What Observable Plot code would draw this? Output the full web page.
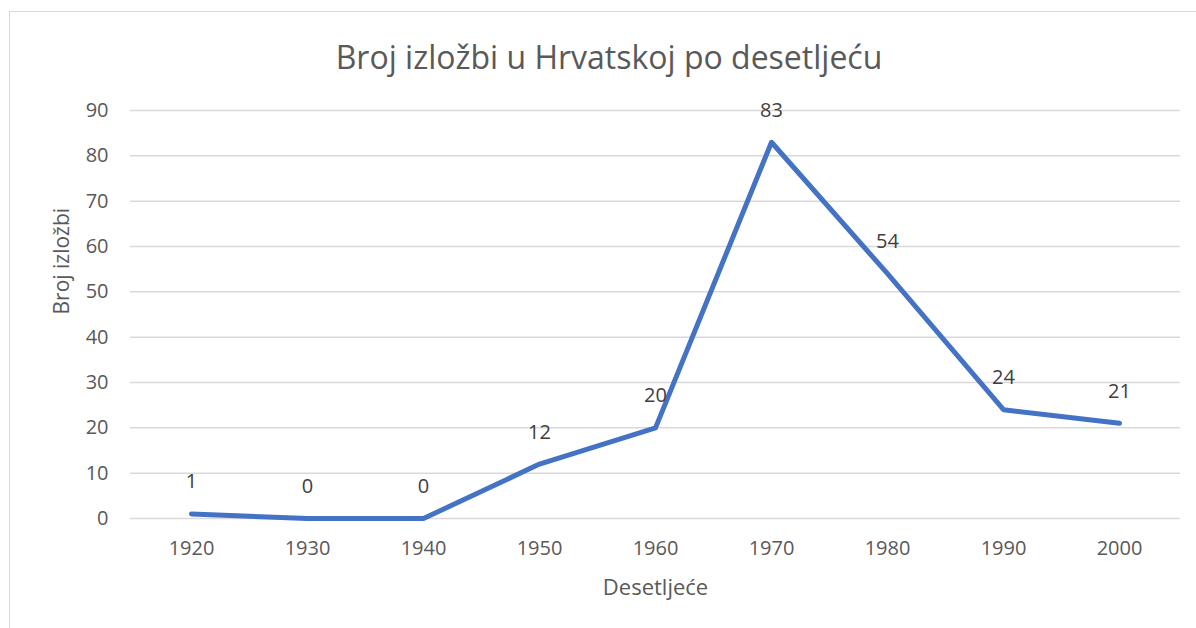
<!DOCTYPE html>
<html>
<head>
<meta charset="utf-8">
<script src="https://cdn.jsdelivr.net/npm/d3@7"></script>
<script src="https://cdn.jsdelivr.net/npm/@observablehq/plot@0.6"></script>
<style>
  html, body { margin: 0; padding: 0; background: #fff; width: 1196px; height: 628px; overflow: hidden; }
  #frame { position: absolute; left: 9px; top: 11px; width: 1200px; height: 640px; border: 1.5px solid #d9d9d9; box-sizing: border-box; }
  #title { position: absolute; left: 9px; width: 1200px; top: 36px; text-align: center; font-family: "Open Sans", sans-serif; font-size: 32px; line-height: 42px; color: #595959; }
  #chart { position: absolute; left: 0; top: 0; }
</style>
</head>
<body>
<div id="frame"></div>
<div id="title">Broj izložbi u Hrvatskoj po desetljeću</div>
<div id="chart"></div>
<script>
const decades = ["1920", "1930", "1940", "1950", "1960", "1970", "1980", "1990", "2000"];
const counts = [1, 0, 0, 12, 20, 83, 54, 24, 21];
const yTicks = [0, 10, 20, 30, 40, 50, 60, 70, 80, 90];

const data = decades.map((d, i) => ({decade: d, count: counts[i]}));

const plot = Plot.plot({
  width: 1196,
  height: 628,
  marginLeft: 130,
  marginRight: 16,
  marginTop: 110,
  marginBottom: 110,
  style: {fontFamily: "'Open Sans', sans-serif", fontSize: "20px", color: "#595959", background: "transparent"},
  x: {type: "point", domain: decades, padding: 0.5, label: null},
  y: {domain: [0, 90], label: null},
  marks: [
    Plot.gridY(yTicks, {stroke: "#d9d9d9", strokeOpacity: 1, strokeWidth: 1.5}),
    Plot.axisY(yTicks, {tickSize: 0, tickPadding: 22, fill: "#595959", fontSize: 20, label: null}),
    Plot.axisX(decades, {tickSize: 0, tickPadding: 22, fill: "#595959", fontSize: 20, label: null}),
    Plot.line(data, {x: "decade", y: "count", stroke: "#4472C4", strokeWidth: 5, strokeLinecap: "round", strokeLinejoin: "round"}),
    Plot.text(data, {x: "decade", y: "count", text: d => String(d.count), dy: -32, fill: "#404040", fontSize: 20}),
    Plot.text(["Desetljeće"], {frameAnchor: "bottom", dy: 76, fill: "#595959", fontSize: 22}),
    Plot.text(["Broj izložbi"], {frameAnchor: "left", dx: -68, rotate: -90, fill: "#595959", fontSize: 21})
  ]
});
document.getElementById("chart").appendChild(plot);
</script>
</body>
</html>
